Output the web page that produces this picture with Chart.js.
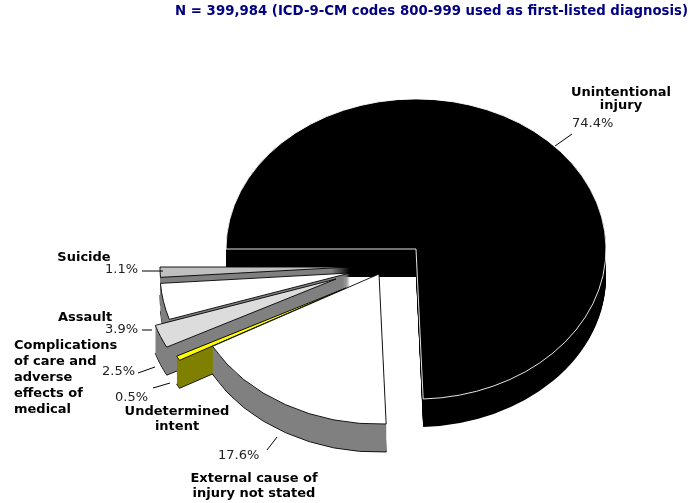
<!DOCTYPE html>
<html>
<head>
<meta charset="utf-8">
<script src="https://cdn.jsdelivr.net/npm/chart.js@4.4.1/dist/chart.umd.min.js"></script>
<style>
html, body { margin: 0; padding: 0; background: #fff; }
</style>
</head>
<body>
<canvas id="pieChart" width="689" height="503"></canvas>
<script>
// data
var titleText = 'N = 399,984 (ICD-9-CM codes 800-999 used as first-listed diagnosis)';
var categories = ['Unintentional injury', 'External cause of injury not stated', 'Undetermined intent',
                  'Complications of care and adverse effects of medical', 'Assault', 'Suicide'];
var nameLines = [['Unintentional', 'injury'], ['External cause of', 'injury not stated'], ['Undetermined', 'intent'],
                 ['Complications', 'of care and', 'adverse', 'effects of', 'medical'], ['Assault'], ['Suicide']];
var percents = [74.4, 17.6, 0.5, 2.5, 3.9, 1.1];

var topColors = ['#000000', '#ffffff', '#ffff00', '#dcdcdc', '#ffffff', '#c0c0c0'];
var sideColors = ['#000000', '#808080', '#808000', '#808080', '#808080', '#808080'];
var edgeColors = ['#ffffff', '#000000', '#000000', '#000000', '#000000', '#000000'];
// how far each slice is pulled out of the pie on screen (the 3d explode of the original)
var explodeX = [0, -37, -70, -80, -66, -66];
var explodeY = [0, 25, 39, 30, 24, 18];

// where the texts and leader lines go
var labelLayout = [
  {nx: 621, ny: 93,  lh: 13, na: 'center', px: 572, py: 124, pa: 'left',  lead: [572, 134, 555, 146]},
  {nx: 254, ny: 479, lh: 15, na: 'center', px: 218, py: 456, pa: 'left',  lead: [267, 450, 277, 437]},
  {nx: 177, ny: 412, lh: 15, na: 'center', px: 148, py: 398, pa: 'right', lead: [153, 388, 170, 383]},
  {nx: 14,  ny: 346, lh: 16, na: 'left',   px: 135, py: 372, pa: 'right', lead: [138, 373, 155, 367]},
  {nx: 85,  ny: 318, lh: 16, na: 'center', px: 138, py: 330, pa: 'right', lead: [142, 330, 152, 330]},
  {nx: 84,  ny: 258, lh: 16, na: 'center', px: 138, py: 270, pa: 'right', lead: [142, 271, 163, 271]}
];

var SQUASH = 0.79;
var DEPTH = 28;
var FONT = '"DejaVu Sans", Verdana, sans-serif';

function place(ctx, i, cy, down) {
  ctx.translate(explodeX[i], explodeY[i] + down);
  ctx.translate(0, cy);
  ctx.scale(1, SQUASH);
  ctx.translate(0, -cy);
}

// draws every slice back to front: side wall first, then the top face
var pie3d = {
  id: 'pie3d',
  beforeDatasetsDraw: function(chart) {
    var ctx = chart.ctx;
    var arcs = chart.getDatasetMeta(0).data;
    var cy = arcs[0].y;
    [0, 5, 4, 3, 2, 1].forEach(function(i) {
      var arc = arcs[i];
      var saved = arc.options;
      for (var d = DEPTH; d >= 1; d--) {
        arc.options = {
          offset: 0, spacing: 0, circular: true, borderAlign: 'center',
          backgroundColor: sideColors[i], borderColor: '#000000',
          borderWidth: (d == DEPTH && i > 0) ? 1 : 0,
          borderJoinStyle: 'round', borderDash: [], borderDashOffset: 0, borderRadius: 0
        };
        ctx.save();
        place(ctx, i, cy, d);
        arc.draw(ctx);
        ctx.restore();
      }
      arc.options = saved;
      ctx.save();
      place(ctx, i, cy, 0);
      arc.draw(ctx);
      ctx.restore();
    });
    return false;
  }
};

var pieLabels = {
  id: 'pieLabels',
  afterDraw: function(chart) {
    var ctx = chart.ctx;
    ctx.save();
    ctx.textBaseline = 'middle';
    ctx.font = 'bold 13.3px ' + FONT;
    ctx.fillStyle = '#000080';
    ctx.textAlign = 'right';
    ctx.fillText(titleText, 688, 12);

    labelLayout.forEach(function(L, i) {
      ctx.strokeStyle = '#000000';
      ctx.lineWidth = 1;
      ctx.beginPath();
      ctx.moveTo(L.lead[0], L.lead[1]);
      ctx.lineTo(L.lead[2], L.lead[3]);
      ctx.stroke();

      ctx.fillStyle = '#000000';
      ctx.font = 'bold 13px ' + FONT;
      ctx.textAlign = L.na;
      nameLines[i].forEach(function(t, j) {
        ctx.fillText(t, L.nx, L.ny + j * L.lh);
      });
      ctx.fillStyle = '#222222';
      ctx.font = '13px ' + FONT;
      ctx.textAlign = L.pa;
      ctx.fillText(percents[i].toFixed(1) + '%', L.px, L.py);
    });
    ctx.restore();
  }
};

new Chart(document.getElementById('pieChart'), {
  type: 'pie',
  data: {
    labels: categories,
    datasets: [{
      data: percents,
      backgroundColor: topColors,
      borderColor: edgeColors,
      borderWidth: 1,
      offset: 0,
      hoverOffset: 0,
      radius: 190,
      clip: false
    }]
  },
  options: {
    responsive: false,
    animation: false,
    rotation: -90,
    layout: { padding: { left: 226, right: 83, top: 59, bottom: 64 } },
    plugins: {
      legend: { display: false },
      title: { display: false },
      tooltip: { enabled: false }
    },
    events: []
  },
  plugins: [pie3d, pieLabels]
});
</script>
</body>
</html>
